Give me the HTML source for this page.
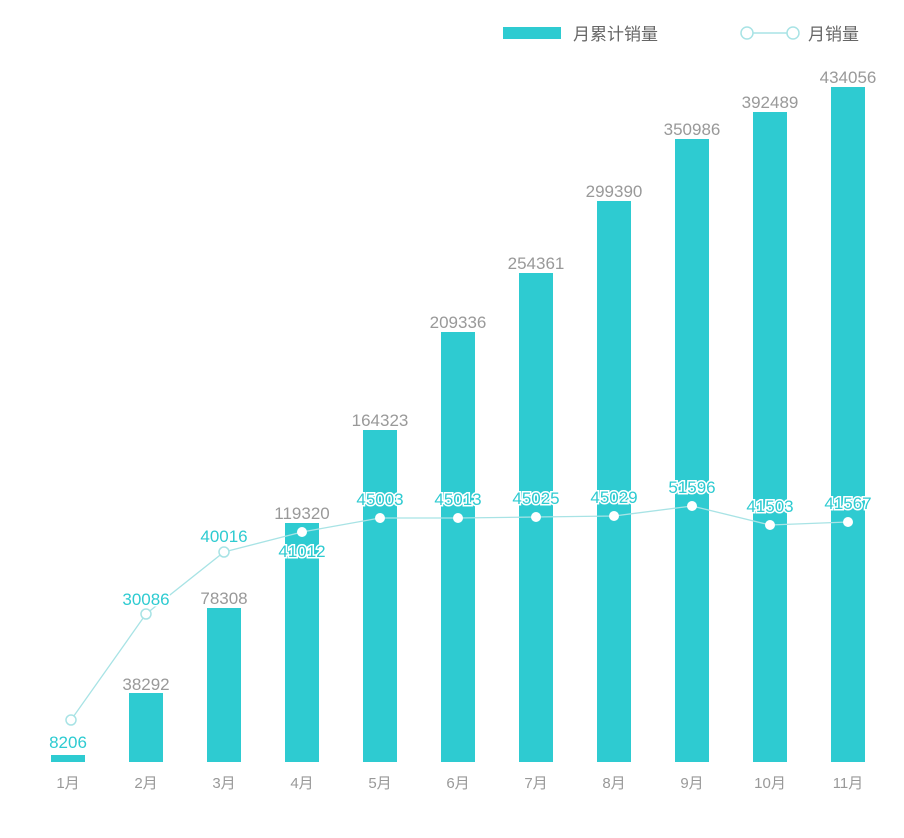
<!DOCTYPE html><html><head><meta charset="utf-8"><style>body{margin:0;background:#fff}svg{display:block}</style></head><body>
<svg width="904" height="838" xmlns="http://www.w3.org/2000/svg" font-family="Liberation Sans, Noto Sans CJK SC, sans-serif">
<rect x="503" y="27" width="58" height="12" fill="#2ECBD1"/>
<text x="573" y="40" font-size="17" fill="#666">月累计销量</text>
<line x1="752" y1="33" x2="788" y2="33" stroke="#A8E3E5" stroke-width="1.5"/>
<circle cx="747" cy="33" r="6" fill="#fff" stroke="#A8E3E5" stroke-width="1.5"/>
<circle cx="793" cy="33" r="6" fill="#fff" stroke="#A8E3E5" stroke-width="1.5"/>
<text x="808" y="40" font-size="17" fill="#666">月销量</text>
<g fill="#2ECBD1">
<rect x="51" y="755" width="34" height="7"/><rect x="129" y="693" width="34" height="69"/><rect x="207" y="608" width="34" height="154"/><rect x="285" y="523" width="34" height="239"/><rect x="363" y="430" width="34" height="332"/><rect x="441" y="332" width="34" height="430"/><rect x="519" y="273" width="34" height="489"/><rect x="597" y="201" width="34" height="561"/><rect x="675" y="139" width="34" height="623"/><rect x="753" y="112" width="34" height="650"/><rect x="831" y="87" width="34" height="675"/>
</g>
<g font-size="17" fill="#999" text-anchor="middle">
<text x="146" y="690">38292</text><text x="224" y="604">78308</text><text x="302" y="519">119320</text><text x="380" y="426">164323</text><text x="458" y="328">209336</text><text x="536" y="269">254361</text><text x="614" y="197">299390</text><text x="692" y="135">350986</text><text x="770" y="108">392489</text><text x="848" y="83">434056</text>
</g>
<g font-size="15" fill="#999" text-anchor="middle">
<text x="68" y="788">1月</text><text x="146" y="788">2月</text><text x="224" y="788">3月</text><text x="302" y="788">4月</text><text x="380" y="788">5月</text><text x="458" y="788">6月</text><text x="536" y="788">7月</text><text x="614" y="788">8月</text><text x="692" y="788">9月</text><text x="770" y="788">10月</text><text x="848" y="788">11月</text>
</g>
<polyline points="71,720 146,614 224,552 302,532 380,518 458,518 536,517 614,516 692,506 770,525 848,522" fill="none" stroke="#A8E3E5" stroke-width="1.3"/>
<g fill="#fff" stroke="#A8E3E5" stroke-width="1.5">
<circle cx="71" cy="720" r="5"/><circle cx="146" cy="614" r="5"/><circle cx="224" cy="552" r="5"/>
</g>
<g fill="#fff">
<circle cx="302" cy="532" r="5"/><circle cx="380" cy="518" r="5"/><circle cx="458" cy="518" r="5"/><circle cx="536" cy="517" r="5"/><circle cx="614" cy="516" r="5"/><circle cx="692" cy="506" r="5"/><circle cx="770" cy="525" r="5"/><circle cx="848" cy="522" r="5"/>
</g>
<g font-size="17" fill="#2ECBD1" text-anchor="middle" stroke="#fff" stroke-width="3" paint-order="stroke">
<text x="68" y="748">8206</text><text x="146" y="605">30086</text><text x="224" y="542">40016</text><text x="302" y="557">41012</text><text x="380" y="505">45003</text><text x="458" y="505">45013</text><text x="536" y="504">45025</text><text x="614" y="503">45029</text><text x="692" y="493">51596</text><text x="770" y="512">41503</text><text x="848" y="509">41567</text>
</g>
</svg></body></html>
